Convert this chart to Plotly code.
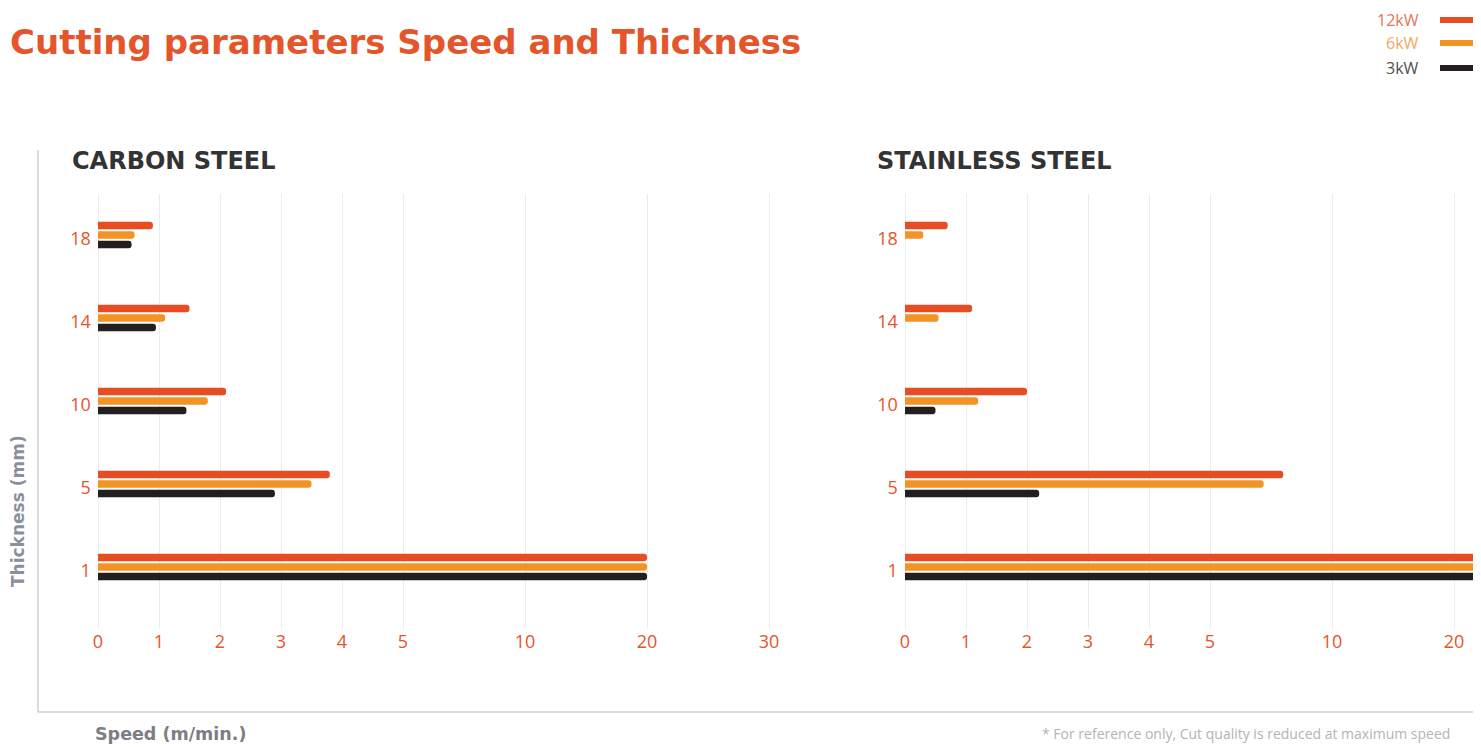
import numpy as np
import plotly.graph_objects as go

# ---------------- data ----------------
thickness = ["18", "14", "10", "5", "1"]
category_order = ["1", "5", "10", "14", "18"]
series_names = ["12kW", "6kW", "3kW"]
series_colors = ["#e84c22", "#f39324", "#231f20"]
legend_text_colors = ["#e37658", "#f2a860", "#505050"]

carbon_12kw = [0.9, 1.5, 2.1, 3.8, 20]
carbon_6kw = [0.6, 1.1, 1.8, 3.5, 20]
carbon_3kw = [0.55, 0.95, 1.45, 2.9, 20]

stainless_12kw = [0.7, 1.1, 2.0, 8.0, 25]
stainless_6kw = [0.3, 0.55, 1.2, 7.2, 25]
stainless_3kw = [0, 0, 0.5, 2.2, 25]

speed_ticks = [0, 1, 2, 3, 4, 5, 10, 20, 30]

# broken (piecewise) speed scale used by the original chart
scale_values = [0, 5, 10, 20, 30]
scale_positions = [0, 5, 7, 9, 11]


def speed_to_pos(vals):
    return list(np.interp(vals, scale_values, scale_positions))


# ---------------- geometry ----------------
OFF = 8  # page body margin
W, H = 1481 - OFF, 747 - OFF
PX = 61.0  # pixels per scale unit


def px_x(p):
    return (p - OFF) / W


def px_y(p):
    return 1 - (p - OFF) / H


ORANGE = "#e5552b"
GRID = "#ececec"
FRAME = "#cfcfcf"
HEAD_FONT = "DejaVu Sans"

fig = go.Figure()

panels = [
    ("x", "y", [carbon_3kw, carbon_6kw, carbon_12kw]),
    ("x2", "y2", [stainless_3kw, stainless_6kw, stainless_12kw]),
]
for xa, ya, vals in panels:
    # reversed so that 12kW sits at the top of each group
    for name, color, v in zip(series_names[::-1], series_colors[::-1], vals):
        fig.add_trace(go.Bar(
            x=speed_to_pos(v), y=thickness, orientation="h",
            name=name, marker=dict(color=color, line=dict(width=0)),
            xaxis=xa, yaxis=ya, showlegend=False,
            customdata=v, hovertemplate="%{customdata} m/min<extra>" + name + "</extra>",
        ))

tick_pos = speed_to_pos(speed_ticks)
tick_txt = [str(t) for t in speed_ticks]

y0_px = 567  # centre of category index 0
step_px = 83
y_range = [-0.75, 4.5]
y_dom = [px_y(y0_px - y_range[0] * step_px), px_y(y0_px - y_range[1] * step_px)]

x1_range = [-0.1, 11.3]
x1_zero = 98
x2_zero = 905
x2_range = [-0.1, (1481 - x2_zero) / PX]

common_x = dict(
    tickvals=tick_pos, ticktext=tick_txt, showgrid=True, gridcolor=GRID, gridwidth=1,
    zeroline=False, showline=False, ticks="", fixedrange=True,
    tickfont=dict(family="Open Sans", size=18, color=ORANGE),
)
common_y = dict(
    type="category", categoryorder="array", categoryarray=category_order,
    range=y_range, domain=y_dom, showgrid=False, zeroline=False, showline=False,
    ticks="", tickfont=dict(family="Open Sans", size=18, color=ORANGE), fixedrange=True,
    ticklabelshift=4,
)

fig.update_layout(
    width=W, height=H,
    margin=dict(l=0, r=0, t=0, b=0),
    paper_bgcolor="white", plot_bgcolor="white",
    barmode="group", bargap=0.657, bargroupgap=0.22, barcornerradius=4,
    xaxis=dict(common_x, range=x1_range,
               domain=[px_x(x1_zero + x1_range[0] * PX), px_x(x1_zero + x1_range[1] * PX)],
               anchor="y"),
    yaxis=dict(common_y, anchor="x"),
    xaxis2=dict(common_x, range=x2_range,
                domain=[px_x(x2_zero + x2_range[0] * PX), 1.0], anchor="y2"),
    yaxis2=dict(common_y, anchor="x2"),
    title=dict(text="Cutting parameters Speed and Thickness", x=px_x(10), xanchor="left",
               y=px_y(42), yanchor="middle", xref="paper", yref="container",
               font=dict(family=HEAD_FONT, size=34, color=ORANGE, weight=700)),
    showlegend=False,
)

annotations = [
    dict(text="CARBON STEEL", x=px_x(70), y=px_y(161), xanchor="left", yanchor="middle",
         font=dict(family=HEAD_FONT, size=24, color="#333333", weight=700)),
    dict(text="STAINLESS STEEL", x=px_x(875), y=px_y(161), xanchor="left", yanchor="middle",
         font=dict(family=HEAD_FONT, size=24, color="#333333", weight=700)),
    dict(text="Thickness (mm)", x=px_x(18), y=px_y(511), textangle=-90,
         xanchor="center", yanchor="middle",
         font=dict(family=HEAD_FONT, size=17, color="#8a8f9e", weight=700)),
    dict(text="Speed (m/min.)", x=px_x(93), y=px_y(734), xanchor="left", yanchor="middle",
         font=dict(family=HEAD_FONT, size=17.5, color="#7d7d85", weight=700)),
    dict(text="* For reference only, Cut quality is reduced at maximum speed",
         x=px_x(1040), y=px_y(733), xanchor="left", yanchor="middle",
         font=dict(family="Open Sans", size=14, color="#b4b4b4")),
]
shapes = [
    dict(type="line", x0=px_x(38), x1=px_x(38), y0=px_y(150), y1=px_y(712),
         line=dict(color=FRAME, width=1.5)),
    dict(type="line", x0=px_x(38), x1=1.0, y0=px_y(712), y1=px_y(712),
         line=dict(color=FRAME, width=1.5)),
]
legend_y = [20, 43, 68]
for name, tcol, col, ly in zip(series_names, legend_text_colors, series_colors, legend_y):
    annotations.append(dict(text=name, x=px_x(1421), y=px_y(ly), xanchor="right",
                            yanchor="middle",
                            font=dict(family="Open Sans", size=16, color=tcol)))
    shapes.append(dict(type="line", x0=px_x(1440), x1=1.0, y0=px_y(ly), y1=px_y(ly),
                       line=dict(color=col, width=6)))

for a in annotations:
    a.update(xref="paper", yref="paper", showarrow=False)
for s in shapes:
    s.update(xref="paper", yref="paper")

fig.update_layout(annotations=annotations, shapes=shapes)

fig.write_html("out.html")
